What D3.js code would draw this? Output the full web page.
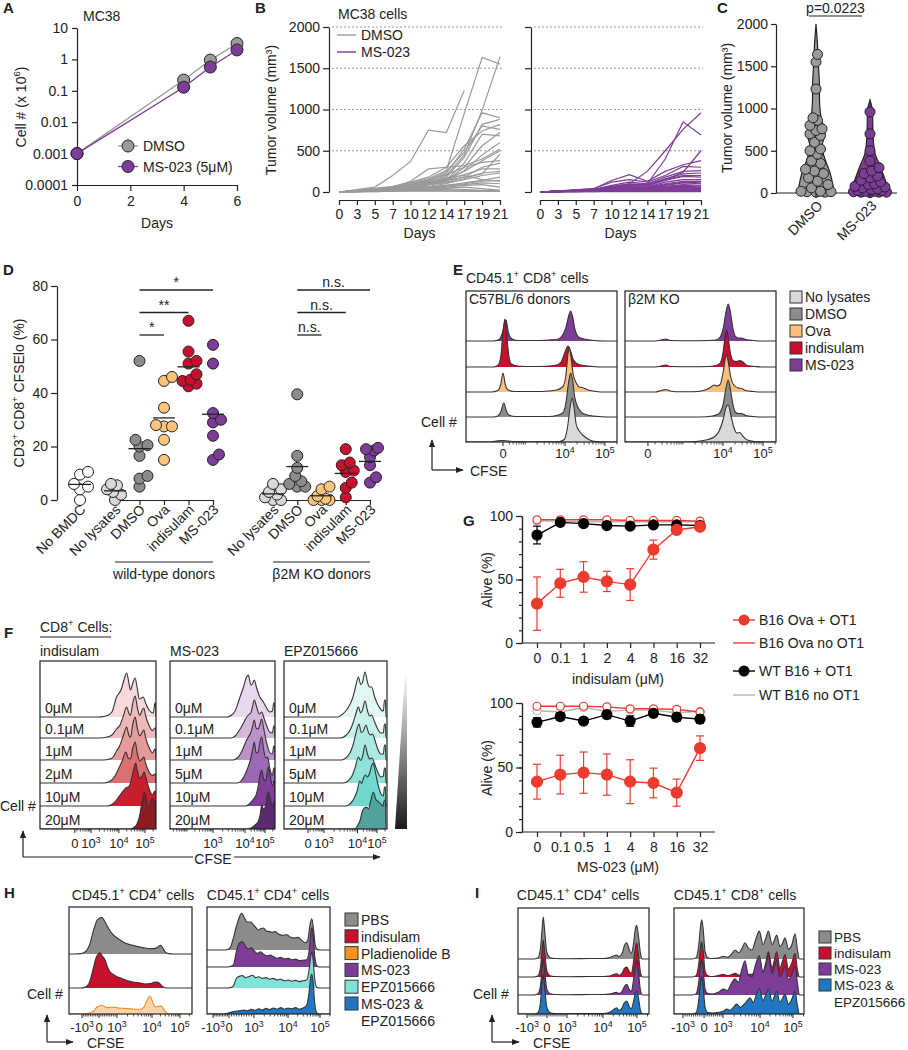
<!DOCTYPE html>
<html><head><meta charset="utf-8">
<script src="https://d3js.org/d3.v7.min.js"></script>
<style>html,body{margin:0;padding:0;background:#fff}</style>
</head><body>
<svg id="fig" width="908" height="1050" xmlns="http://www.w3.org/2000/svg"></svg>
<script>
// ================= DATA =================
// A
const aDays=[0,4,5,6];
const aDMSO=[0.001,0.22,0.95,3.2];
const aMS023=[0.001,0.13,0.57,2.0];
const aYTicks=[0.0001,0.001,0.01,0.1,1,10];
const aYLabels=["0.0001","0.001","0.01","0.1","1","10"];
const aXTicks=[0,2,4,6];
const aLegend=["DMSO","MS-023 (5μM)"];
// B
const bDays=[0,3,5,7,10,12,14,17,19,21];
const bYTicks=[0,500,1000,1500,2000];
const bDMSO=[
[0,30,60,200,370,750,720,1230,null,null],
[0,20,40,60,110,160,260,950,1630,1550],
[0,15,30,50,80,120,200,450,990,1640],
[0,20,35,60,90,130,230,520,960,900],
[0,10,25,45,70,110,180,420,820,880],
[0,15,30,55,90,140,250,480,800,760],
[0,20,40,70,120,180,300,560,740,820],
[0,10,20,40,70,100,150,350,700,680],
[0,15,25,40,60,90,140,300,560,720],
[0,10,20,35,60,90,130,260,450,600],
[0,15,30,50,130,280,300,320,400,520],
[0,10,20,40,70,110,160,250,380,500],
[0,20,40,60,100,150,210,300,360,380],
[0,10,25,40,60,90,120,180,300,350],
[0,15,30,50,80,120,150,210,280,280],
[0,10,20,30,50,70,100,160,230,250],
[0,10,20,40,70,90,110,150,200,230],
[0,15,25,35,50,60,80,110,140,180],
[0,10,20,30,40,60,80,100,130,140],
[0,5,15,25,40,50,70,90,110,100],
[0,10,15,25,35,45,60,80,90,60],
[0,5,10,20,30,40,50,60,40,20],
[0,5,10,15,20,30,40,30,20,20],
[0,5,10,15,25,30,30,20,15,15],
[0,5,5,10,15,20,15,10,10,10],
[0,5,5,10,10,10,10,10,10,10],
[0,10,20,30,60,120,170,200,150,130],
[0,20,30,50,80,100,140,180,220,460]];
const bMS023=[
[0,10,20,30,60,100,250,500,760,960],
[0,10,20,30,50,90,100,400,850,690],
[0,10,20,35,60,80,100,150,240,500],
[0,15,25,40,140,210,130,250,330,380],
[0,10,25,40,120,150,120,200,310,300],
[0,10,20,30,80,120,100,180,250,260],
[0,10,20,30,70,100,90,160,220,230],
[0,10,20,30,60,80,80,150,200,200],
[0,10,20,30,60,70,70,140,190,180],
[0,10,20,30,50,60,60,120,150,150],
[0,10,20,25,40,60,60,100,130,130],
[0,10,15,25,40,50,50,90,120,110],
[0,10,15,25,35,50,50,80,110,100],
[0,10,15,20,30,40,50,70,90,80],
[0,10,15,20,30,40,40,60,80,70],
[0,10,15,20,30,35,40,60,70,60],
[0,5,15,20,25,30,35,50,60,50],
[0,5,10,20,25,30,30,40,50,40],
[0,5,10,15,20,25,30,35,40,30],
[0,5,10,15,20,25,25,30,35,30],
[0,5,10,15,20,20,20,25,25,20],
[0,5,10,10,15,15,20,20,20,20],
[0,5,10,10,15,15,15,15,15,15],
[0,5,5,10,10,10,10,10,10,10],
[0,5,5,10,10,10,10,10,10,10],
[0,5,5,5,10,10,10,10,10,10],
[0,5,5,5,5,5,5,5,5,5]];
const bLegend=["DMSO","MS-023"];
// C
const cGroups=["DMSO","MS-023"];
const cYTicks=[0,500,1000,1500,2000];
const cDMSO=[1640,1550,1230,890,860,800,760,740,700,680,600,520,500,460,380,350,280,260,230,180,140,100,60,20,20,15,15,10,10];
const cMS023=[960,700,500,380,300,260,230,200,180,150,130,110,100,80,70,60,50,40,30,30,20,20,15,10,10,10,5];
const cViolinDMSO=[[0,17.5],[80,17],[240,14],[400,9],[550,6],[700,9],[790,7.5],[900,5],[990,4],[1100,3.5],[1260,3.5],[1500,2.5],[1750,1.5],[2000,0]];
const cViolinMS023=[[0,19],[160,15],[320,10],[470,5],[630,3.3],[800,2.8],[990,2.3],[1100,0]];
const cP="p=0.0223";
// D
const dYTicks=[0,20,40,60,80];
const dNoBMDC=[10.5,9.5,6,5,4,0];
const dCats=["No lysates","DMSO","Ova","indisulam","MS-023"];
const dWT=[[6,5.5,4,3,2,0],[52,22.5,20.5,20,16.5,9,8,5],[46,44.5,34.5,28,27.5,27.5,22.5,15],[67,55.5,52,51,47,45,44.5,43.5,42.5],[58,51,32.5,30,29,24,17,15]];
const dKO=[[6,4,3,2,1,0,0],[39.5,16.5,12,9,7,6,5,5],[5,4,1.5,0.5,0,0,0],[19,14,13,11,10.5,6.5,4.5,1],[19.5,19,18.5,16,13,8.5,6.5]];
const dColors=["#d9d9d9","#8c8c8c","#fdc47d","#c8102e","#7d3c98"];
const dSigWT=[{to:"Ova",label:"*"},{to:"indisulam",label:"**"},{to:"MS-023",label:"*"}];
const dSigKO=[{to:"Ova",label:"n.s."},{to:"indisulam",label:"n.s."},{to:"MS-023",label:"n.s."}];
const dGroups=["wild-type donors","β2M KO donors"];
// E
const eRows=["MS-023","indisulam","Ova","DMSO","No lysates"]; // top to bottom
const eLegend=["No lysates","DMSO","Ova","indisulam","MS-023"];
const eColors={"No lysates":"#d9d9d9","DMSO":"#8c8c8c","Ova":"#fdc07a","indisulam":"#c8102e","MS-023":"#7d3c98"};
const eHistWT={
"MS-023":[[0,0],[18,0],[22,3],[24,15],[26.5,42],[28,18],[30,5],[34,1],[45,1],[55,2],[60,3],[63,8],[66,25],[68,50],[69.3,60],[70.5,50],[72,25],[74,10],[77,5],[80,3],[85,1],[92,0]],
"indisulam":[[0,0],[18,0],[21,3],[23,20],[24.5,70],[25.8,96],[27,60],[28.5,20],[30,6],[34,2],[45,1],[55,2],[60,4],[63,10],[65,25],[67.5,42],[69.5,30],[71,15],[74,6],[78,3],[84,1],[90,0]],
"Ova":[[0,0],[17,0],[21,3],[23,15],[24.5,38],[26,15],[28,4],[32,1],[45,1],[55,2],[60,4],[64,10],[66,30],[67.5,75],[68.3,90],[69.5,70],[71,35],[73,18],[75,10],[77,9],[80,5],[84,2],[90,0]],
"DMSO":[[0,0],[18,0],[21,2],[23,10],[25,28],[27,10],[29,3],[33,1],[45,1],[55,1],[60,3],[64,8],[66,25],[68,70],[69.3,88],[70.5,75],[72,40],[74,20],[77,8],[82,3],[88,1],[95,0]],
"No lysates":[[0,0],[15,0],[20,2],[24,3],[28,2],[32,1],[45,0.5],[55,0.5],[62,1],[65,5],[67,25],[69,70],[70.3,88],[71.5,70],[73,35],[75,22],[78,12],[82,4],[86,1],[92,0]]};
const eHistKO={
"MS-023":[[0,0],[20,0],[24,2],[27,4],[30,1],[45,0.5],[55,1],[60,2],[63,8],[65,25],[67,60],[68.4,74],[69.8,58],[71.5,25],[73,10],[75,6],[77,6],[80,3],[85,1],[90,0]],
"indisulam":[[0,0],[20,0],[24,2],[27,4],[30,1],[45,0.5],[55,1],[60,3],[63,8],[65,30],[66.5,65],[67.3,74],[68.5,55],[70,25],[72,12],[74,11],[76,13],[78,10],[81,3],[86,1],[90,0]],
"Ova":[[0,0],[20,0],[24,3],[27,5],[30,2],[34,0.5],[45,0.5],[52,3],[56,8],[59,14],[61,12],[63,15],[65,40],[66.5,68],[67.3,74],[68.5,58],[70,30],[72,14],[75,8],[77,7],[80,3],[85,1],[90,0]],
"DMSO":[[0,0],[50,0],[58,2],[62,6],[65,25],[67,60],[68.4,74],[69.8,55],[71.5,25],[73,10],[75,7],[77,7],[80,3],[85,1],[90,0]],
"No lysates":[[0,0],[40,0],[50,2],[55,5],[59,10],[62,20],[65,45],[67,70],[68.4,74],[70,55],[72,30],[74,18],[76,19],[78,12],[81,4],[86,1],[92,0]]};
const eTicksWT=[{v:24.5,l:"0",e:0},{v:65.6,l:"10^{4}",e:4},{v:92,l:"10^{5}",e:5}];
const eTicksKO=[{v:15.2,l:"0",e:0},{v:64.9,l:"10^{4}",e:4},{v:91.4,l:"10^{5}",e:5}];
const eBoxTitles=["C57BL/6 donors","β2M KO"];
// F
const fDrugs=["indisulam","MS-023","EPZ015666"];
const fDoses=[["0μM","0.1μM","1μM","2μM","10μM","20μM"],["0μM","0.1μM","1μM","5μM","10μM","20μM"],["0μM","0.1μM","1μM","5μM","10μM","20μM"]];
const fColors=[["#f8dada","#f0b9b9","#e79a9a","#dc6f6f","#c81f2d","#8c1b22"],["#ead9ee","#d6b8df","#bb91ca","#9e69b4","#7f3e98","#5b2a6f"],["#e2f8f5","#c8f1ec","#ace9e2","#8fe2d9","#70d9ce","#52a39b"]];
const fHist=[
[[[50,0],[55,1],[58,3],[62,10],[66,40],[70,55],[72.5,75],[74.7,88],[76.5,70],[78,54],[80,68],[82,78],[84,55],[85.6,36],[87.5,38],[89,40],[91,28],[94,14],[97.7,8],[99,28],[99.6,28],[100,0]],
 [[52,0],[58,2],[62,6],[66,18],[69,26],[72,45],[74.7,62],[76.5,50],[78,45],[80,70],[82,84],[84,60],[86,45],[88,55],[89.5,60],[91,45],[94,25],[97,15],[99,20],[99.6,20],[100,0]],
 [[55,0],[60,2],[63,6],[66,18],[69,30],[72,50],[74.7,66],[76.5,50],[78,45],[80,72],[82,86],[84,62],[86,48],[88,55],[89.5,60],[91,45],[94,25],[97,14],[99,22],[99.6,22],[100,0]],
 [[55,0],[60,3],[64,12],[68,30],[71,45],[74,62],[76,50],[78,48],[80,70],[82,82],[84,58],[86,44],[88,48],[89.5,52],[91,40],[94,22],[97,15],[99,18],[99.6,18],[100,0]],
 [[58,0],[62,3],[66,12],[70,25],[74,36],[77,40],[79,55],[81,75],[82.5,86],[84,70],[86,55],[88,60],[89.7,68],[91.5,55],[94,35],[97,22],[99,30],[99.6,30],[100,0]],
 [[78,0],[81,3],[84,12],[86,28],[88,55],[90,74],[92,55],[94,44],[95.5,55],[97,62],[98.5,55],[99.5,50],[100,0]]],
[[[55,0],[58,3],[62,12],[66.7,40],[70,60],[72.5,78],[74.6,84],[77,64],[78.5,66],[80.3,74],[82.5,58],[85.5,40],[88.9,30],[92,18],[95,10],[97.5,12],[98.8,28],[99.5,28],[100,0]],
 [[58,0],[62,4],[66,15],[70,30],[72.5,40],[74.6,46],[77,50],[78.5,62],[80.3,76],[82.5,62],[85,48],[87.3,52],[89.5,40],[92,25],[95,12],[97.5,10],[98.8,24],[99.5,24],[100,0]],
 [[60,0],[64,4],[67,12],[70,25],[72.5,38],[74.6,46],[77,55],[78.5,66],[80.3,80],[82,64],[84,62],[85.5,70],[87.3,82],[89.5,60],[92,35],[95,15],[97.5,12],[98.8,28],[99.5,28],[100,0]],
 [[64,0],[68,5],[71,15],[74,30],[77,50],[79,70],[80.3,82],[82,60],[84,62],[85.5,80],[87.3,92],[89,70],[91,50],[93,52],[95,30],[97.5,15],[98.8,30],[99.5,30],[100,0]],
 [[72,0],[75,3],[78,10],[80,15],[82,22],[84,40],[85.5,60],[87.3,72],[89,55],[91,50],[92.5,65],[93.6,78],[95.5,60],[97.5,40],[98.8,50],[99.5,50],[100,0]],
 [[74,0],[78,3],[81,8],[84,15],[86,30],[87.3,48],[89,40],[91,45],[92.5,65],[93.6,74],[95.5,60],[97.5,42],[98.8,55],[99.5,55],[100,0]]],
[[[52,0],[55,3],[60,12],[64,25],[67,40],[70,65],[72.2,80],[74.5,65],[76,68],[78.7,90],[81,70],[83,60],[85,60],[88,40],[91,25],[94,15],[96.5,12],[97.5,34],[98.5,34],[99,0]],
 [[55,0],[60,5],[64,15],[67,30],[70,50],[72.2,62],[74.5,50],[76,55],[78.7,74],[81,55],[83,44],[85,46],[88,32],[91,18],[94,10],[96.5,10],[97.5,28],[98.5,28],[99,0]],
 [[56,0],[60,4],[64,14],[67,30],[70,55],[72.8,72],[75,55],[77,58],[79.5,70],[82,55],[84,50],[86,52],[88.5,38],[91,22],[94,12],[96.5,12],[97.5,30],[98.5,30],[99,0]],
 [[58,0],[62,4],[66,14],[69,30],[72.2,52],[74.5,45],[76.5,55],[78.7,76],[81,58],[83,48],[85.5,50],[88,38],[91,22],[94,12],[96.5,14],[97.5,30],[98.5,30],[99,0]],
 [[60,0],[64,4],[68,15],[71,30],[73.5,50],[75.5,45],[77,55],[79,62],[81,58],[83,65],[85,80],[86.7,86],[88.5,70],[91,45],[94,25],[96.5,20],[97.5,38],[98.5,38],[99,0]],
 [[68,0],[71,5],[74,18],[76,35],[78,42],[80.3,44],[82,40],[84,55],[86.7,74],[89,60],[91.5,55],[94,50],[96,45],[97.5,58],[98.5,58],[99,0]]]];
const fTicks=[
[{v:30,l:"0",e:0},{v:44,l:"10^{3}",e:3},{v:68,l:"10^{4}",e:4},{v:90.5,l:"10^{5}",e:5}],
[{v:41,l:"10^{3}",e:3},{v:71.4,l:"10^{4}",e:4},{v:90.5,l:"10^{5}",e:5}],
[{v:23.3,l:"0",e:0},{v:38.8,l:"10^{3}",e:3},{v:71.4,l:"10^{4}",e:4},{v:90.3,l:"10^{5}",e:5}]];
// G
const gCatsTop=["0","0.1","1","2","4","8","16","32"];
const gCatsBottom=["0","0.1","0.5","1","4","8","16","32"];
const gSeriesNames=["B16 Ova + OT1","B16 Ova no OT1","WT B16 + OT1","WT B16 no OT1"];
const gTopMean=[[31,47,52,48.5,46,73.5,89,91.5],[97,97,97,97,96.5,96.5,96.5,96],[85,95,94,92.5,92,93,93,92.5],[96,96,95.5,95.5,95.5,95.5,95.5,95.5]];
const gTopErr=[[21,11,12,8,12.5,7.5,1.5,1],[1,1,1,1,1,1,1,1],[7,1,1.5,1.5,1.5,1,1,1],[1,1,1,1,1,1,1,1]];
const gBotMean=[[39,44.5,46,44.5,39,38,30.5,65],[97.5,97.5,97.5,97,95.5,95.5,95,93],[85,89.5,86,91,86,92,89,87.5],[94,93,96.5,93.5,94.5,94.5,92.5,93.5]];
const gBotErr=[[13.5,15,16,16,17,11.5,10.5,9.5],[1,1,1.5,1,1,1,2,1],[3.5,3,2,3,4,2,3,3],[2,1,1,1,1,1,2,1]];
const gYTicks=[0,50,100];
// H
const hLegend=["PBS","indisulam","Pladienolide B","MS-023","EPZ015666","MS-023 &|EPZ015666"];
const hColors=["#8c8c8c","#c8102e","#f7941d","#7d3c98","#7fe3d8","#1f78c1"];
const hHist1=[
[[5,0],[10,1],[14,8],[17,25],[20,60],[23,85],[26.6,92],[29,82],[31,70],[34,55],[37,45],[41,36],[45,28],[50,23],[55,19],[60,16],[66,13],[70,14],[72.5,18],[74.5,22],[76.5,14],[78.5,4],[81,1],[84,0]],
[[10,0],[13,2],[16,10],[19,40],[22,75],[25.2,88],[27,80],[29.3,70],[31,55],[33,42],[36,34],[39,28],[43,24],[47,19],[52,15],[57,13],[62,10],[66,11],[69,14],[71.3,15],[73.5,12],[76,4],[79,0]],
[[12,0],[16,2],[20,8],[23,18],[26.6,22],[29,18],[32,16],[36,17],[40,15],[45,14],[50,13],[55,12],[58,12],[61,18],[63.5,35],[65.9,45],[68,30],[70,18],[72.5,19],[74.8,20],[77,12],[79,4],[81,0]]];
const hHist2=[
[[15,0],[18.7,5],[21,25],[24,60],[26,80],[28.2,92],[30.5,80],[32.5,70],[35.5,70],[38,62],[40,55],[41.7,50],[44,54],[45.8,55],[48.5,47],[51,46],[53,44],[55.3,46],[58,40],[61,37],[64.8,38],[68,32],[71,30],[74.2,32],[77,24],[80,18],[82,25],[83.6,60],[85.1,78],[86.5,55],[88,12],[89.5,2],[92,0]],
[[17,0],[21.4,5],[24,40],[26.5,60],[29,63],[31.5,50],[33.5,45],[36,48],[38.5,40],[41,34],[43.5,38],[46,32],[49,28],[51.5,30],[54,26],[57,22],[60,24],[63,20],[66,22],[69,18],[72,20],[75,16],[78,17],[81,18],[83,40],[84.2,80],[85.1,98],[86.3,80],[87.5,30],[89,5],[91,0]],
[[17,0],[21,3],[24,25],[27,30],[29,31],[31,26],[34,28],[37,32],[39.5,26],[42,28],[45,24],[48,26],[51,22],[54,24],[57,20],[60,22],[63,18],[66,20],[69,17],[72,19],[75,16],[78,18],[81,20],[83,45],[84.2,75],[85.1,90],[86.3,70],[87.5,25],[89,3],[91,0]],
[[14,0],[18,3],[22,6],[26,8],[30,10],[33,8],[36,12],[39,9],[42,13],[45,10],[48,14],[51,11],[54,15],[57,12],[60,16],[63,12],[66,15],[69,13],[72,16],[75,12],[78,15],[81,22],[83,55],[84.2,90],[85.1,100],[86.3,80],[87.5,30],[89,4],[91,0]]];
const hTicks1=[{v:10.6,l:"-10^{3}",e:-3},{v:24.4,l:"0",e:0},{v:39,l:"10^{3}",e:3},{v:67.5,l:"10^{4}",e:4},{v:90.2,l:"10^{5}",e:5}];
const hTicks2=[{v:4.9,l:"-10^{3}",e:-3},{v:17.9,l:"0",e:0},{v:38.2,l:"10^{3}",e:3},{v:65.9,l:"10^{4}",e:4},{v:91.9,l:"10^{5}",e:5}];
// I
const iLegend=["PBS","indisulam","MS-023","MS-023 &|EPZ015666"];
const iColors=["#8c8c8c","#c8102e","#7d3c98","#1f78c1"];
const iHist1=[
[[12,0],[15,2],[17,20],[18.5,70],[19.3,93],[20.3,65],[22,15],[24.5,3],[28,1],[40,0.5],[55,1],[65,1],[70,3],[72.5,6],[75.3,9],[77,5],[79.5,12],[81,28],[83,36],[85,20],[86.5,12],[88,30],[89.5,65],[90.6,75],[92,50],[93.5,12],[95,0]],
[[12,0],[15,2],[17,18],[18.5,62],[19.3,82],[20.3,58],[22,14],[24.5,3],[28,1],[40,0.5],[55,1],[65,1],[70,2],[72.5,5],[75.3,7],[77,4],[79.5,9],[81,18],[83,22],[85,12],[86.5,8],[88,30],[89.5,62],[90.6,76],[92,48],[93.5,10],[95,0]],
[[12,0],[15,2],[17,18],[18.5,60],[19.3,80],[20.3,55],[22,13],[24.5,3],[28,1],[40,0.5],[55,1],[65,1],[70,2],[72.5,4],[75.3,6],[77,3],[79.5,8],[81,18],[83,24],[85,12],[86.5,8],[88,30],[89.5,62],[90.6,76],[92,48],[93.5,10],[95,0]],
[[12,0],[15,2],[17,22],[18.5,70],[19.3,89],[20.3,62],[22,15],[24.5,3],[28,1],[40,0.5],[55,1],[65,1],[70,4],[72.5,9],[75.3,14],[77,8],[79.5,14],[81,24],[83,29],[85,16],[86.5,12],[88,25],[89.5,45],[90.6,51],[92,35],[93.5,8],[95,0]]];
const iHist2=[
[[14,0],[17,3],[19,30],[20.5,75],[21.3,87],[22.3,70],[24,15],[26,3],[30,1],[34,2],[37.9,6],[41,4],[44,10],[46.9,20],[50,14],[52.5,25],[54.6,36],[57,25],[60,20],[62.5,40],[65.6,62],[68.5,32],[70.5,45],[72.6,62],[75.5,32],[77,40],[79,53],[81.5,28],[83.5,35],[85.4,47],[88,22],[90.5,30],[93.1,56],[95,20],[96.5,0]],
[[14,0],[17,3],[19,28],[20.5,68],[21.3,78],[22.3,60],[24,12],[26,3],[30,1],[34,3],[37.9,6],[41,3],[44,5],[46.9,8],[50,4],[52.5,8],[54.6,12],[57,6],[60,6],[62.5,12],[65.6,20],[68.5,12],[70.5,30],[72.6,56],[75.5,20],[77,35],[79,56],[81.5,20],[83.5,35],[85.4,50],[88,18],[90.5,30],[93.1,52],[95,15],[96.5,0]],
[[14,0],[17,3],[19,28],[20.5,68],[21.3,78],[22.3,60],[24,12],[26,3],[30,2],[34,6],[37.9,13],[41,10],[44,25],[46.9,36],[49.5,28],[52,55],[54.6,76],[57,45],[60,40],[62.5,65],[65.6,87],[68.5,50],[70.5,65],[72.6,87],[75.5,48],[77,60],[79,76],[81.5,40],[83.5,50],[85.4,64],[88,35],[90.5,45],[93.1,64],[95,25],[96.5,0]],
[[14,0],[17,3],[19,30],[20.5,72],[21.3,84],[22.3,65],[24,14],[26,3],[30,2],[35,4],[38,6],[40.5,11],[43,8],[45.5,14],[48.2,22],[51,15],[54,22],[56.5,30],[58.5,36],[61,25],[63,40],[65.6,56],[68.5,30],[70.5,42],[72.6,56],[75.5,28],[77,38],[79,50],[81.5,26],[83.5,35],[85.4,44],[88,22],[90.5,32],[93.1,50],[95,18],[96.5,0]]];
const iTicks1=[{v:6.9,l:"-10^{3}",e:-3},{v:22.1,l:"0",e:0},{v:37.4,l:"10^{3}",e:3},{v:64.9,l:"10^{4}",e:4},{v:90.8,l:"10^{5}",e:5}];
const iTicks2=[{v:6.9,l:"-10^{3}",e:-3},{v:23.1,l:"0",e:0},{v:37.7,l:"10^{3}",e:3},{v:66.2,l:"10^{4}",e:4},{v:91.5,l:"10^{5}",e:5}];

// ================= HELPERS =================
const FONT='"Liberation Sans", Arial, Helvetica, sans-serif';
const INK="#222", PURPLE="#7d3c98", LGRAY="#9a9a9a", GRED="#ee3b2f";
const svg=d3.select("#fig").attr("font-family",FONT);
const defs=svg.append("defs");
defs.append("marker").attr("id","arrow").attr("viewBox","0 0 10 10").attr("refX",9).attr("refY",5)
  .attr("markerWidth",8).attr("markerHeight",8).attr("markerUnits","userSpaceOnUse").attr("orient","auto")
  .append("path").attr("d","M0,1L10,5L0,9Z").attr("fill",INK);
const grad=defs.append("linearGradient").attr("id","wedge").attr("x1",0).attr("y1",0).attr("x2",0).attr("y2",1);
grad.append("stop").attr("offset","0%").attr("stop-color","#ffffff");
grad.append("stop").attr("offset","100%").attr("stop-color","#1a1a1a");

function rich(t,str){
  t.text(null);
  const parts=str.split(/(\^\{[^}]*\})/).filter(s=>s.length);
  let up=false;
  parts.forEach(p=>{
    if(p.startsWith("^{")){t.append("tspan").text(p.slice(2,-1)).attr("font-size","0.68em").attr("dy","-0.6em");up=true;}
    else{const ts=t.append("tspan").text(p); if(up){ts.attr("dy","0.41em");up=false;}}
  });
  return t;
}
function T(x,y,str,o={}){
  const t=svg.append("text").attr("x",x).attr("y",y).attr("font-size",o.size||14)
    .attr("text-anchor",o.anchor||"start").attr("fill",o.fill||INK);
  if(o.bold) t.attr("font-weight","bold");
  if(o.rotate!=null) t.attr("transform",`rotate(${o.rotate},${x},${y})`);
  return rich(t,str);
}
function styleAxis(sel,size){
  sel.attr("font-family",FONT).attr("font-size",size||14);
  sel.selectAll("path.domain").attr("stroke",INK).attr("stroke-width",1.2);
  sel.selectAll(".tick line").attr("stroke",INK).attr("stroke-width",1.2);
  sel.selectAll(".tick text").attr("fill",INK);
}
function hline(x1,x2,y,w){svg.append("line").attr("x1",x1).attr("x2",x2).attr("y1",y).attr("y2",y).attr("stroke",INK).attr("stroke-width",w||1.2);}
function arrow(x1,y1,x2,y2){svg.append("line").attr("x1",x1).attr("y1",y1).attr("x2",x2).attr("y2",y2).attr("stroke",INK).attr("stroke-width",1.2).attr("marker-end","url(#arrow)");}
// beeswarm: place each point at the nearest free offset within maxOff(value)
function swarm(values,y,cx,minD,step,maxOff){
  const pts=values.map(v=>({v,y:y(v)})).sort((a,b)=>a.v-b.v);
  const placed=[];
  pts.forEach(p=>{
    const lim=maxOff(p.v);
    const offs=[0];for(let k=1;k*step<=lim;k++){offs.push(k*step,-k*step);}
    let best=null,bestD=-1;
    for(const o of offs){
      const dmin=placed.length?d3.min(placed,q=>Math.hypot(q.x-(cx+o),q.y-p.y)):1e9;
      if(dmin>=minD){best=o;break;}
      if(dmin>bestD){bestD=dmin;best=o;}
    }
    p.x=cx+best;
    placed.push(p);
  });
  return placed;
}
function minorTicks(ticks){
  const dec=ticks.filter(t=>t.e>0).sort((a,b)=>a.e-b.e);
  const zero=ticks.find(t=>t.e===0), neg=ticks.find(t=>t.e<0);
  const out=[];
  for(let i=0;i<dec.length-1;i++){const a=dec[i],b=dec[i+1],w=(b.v-a.v)/(b.e-a.e);for(let m=2;m<10;m++)out.push(a.v+Math.log10(m)*w);}
  const last=dec[dec.length-1];
  const w=(last.v-dec[0].v)/(last.e-dec[0].e);
  for(let m=2;m<10;m++){const v=last.v+Math.log10(m)*w;if(v<100)out.push(v);}
  if(neg&&zero){
    for(let k=1;k<10;k++){out.push(zero.v+(dec[0].v-zero.v)*k/10);out.push(zero.v-(zero.v-neg.v)*k/10);}
  } else {
    const lo=zero?zero.v+1:0;
    for(let j=1;j<=2;j++){const base=dec[0].v-j*w;for(let m=1;m<10;m++){const v=base+Math.log10(m)*w;if(v>lo&&v<dec[0].v)out.push(v);}}
  }
  return out;
}
let clipN=0;
function histBox(c){
  const g=svg.append("g");
  const id="clip"+(clipN++);
  defs.append("clipPath").attr("id",id).append("rect").attr("x",c.x0).attr("y",c.y0).attr("width",c.x1-c.x0).attr("height",c.y1-c.y0);
  const xs=d3.scaleLinear([0,100],[c.x0,c.x1]);
  const hs=d3.scaleLinear([0,100],[0,c.hpx]);
  const inner=g.append("g").attr("clip-path",`url(#${id})`);
  c.rows.forEach((r,i)=>{
    const b=c.baselines[i];
    const d=r.data.slice();
    if(d[0][0]>0)d.unshift([0,0]);
    if(d[d.length-1][0]<100)d.push([100,0]);
    const area=d3.area().x(p=>xs(p[0])).y0(b).y1(p=>b-hs(p[1])).curve(d3.curveMonotoneX);
    const line=d3.line().x(p=>xs(p[0])).y(p=>b-hs(p[1])).curve(d3.curveMonotoneX);
    inner.append("path").attr("d",area(d)).attr("fill",r.fill);
    inner.append("path").attr("d",line(d)).attr("fill","none").attr("stroke",r.stroke||"#333").attr("stroke-width",1.1);
  });
  g.append("rect").attr("x",c.x0).attr("y",c.y0).attr("width",c.x1-c.x0).attr("height",c.y1-c.y0)
    .attr("fill","none").attr("stroke",INK).attr("stroke-width",1.2);
  if(c.ticks){
    c.ticks.forEach(t=>{
      g.append("line").attr("x1",xs(t.v)).attr("x2",xs(t.v)).attr("y1",c.y1).attr("y2",c.y1+4).attr("stroke",INK).attr("stroke-width",1);
      const tx=g.append("text").attr("x",xs(t.v)).attr("y",c.y1+c.labelDy).attr("text-anchor","middle").attr("font-size",c.tickSize||13).attr("fill",INK);
      rich(tx,t.l);
    });
    minorTicks(c.ticks).forEach(v=>{
      g.append("line").attr("x1",xs(v)).attr("x2",xs(v)).attr("y1",c.y1).attr("y2",c.y1+2.5).attr("stroke",INK).attr("stroke-width",0.8);
    });
  }
  return {g,xs};
}
function legendSquares(x,yTop,step,size,names,colors,fs){
  names.forEach((n,i)=>{
    const y=yTop+i*step;
    svg.append("rect").attr("x",x).attr("y",y).attr("width",size).attr("height",size).attr("fill",colors[i]).attr("stroke","#333").attr("stroke-width",1);
    const lines=n.split("|");
    lines.forEach((ln,j)=>T(x+size+3,y+size-1+j*17,ln,{size:fs||14}));
  });
}

// ================= PANEL A =================
(function(){
  T(3,13,"A",{bold:true,size:15});
  T(83,21,"MC38",{size:14});
  const x=d3.scaleLinear([0,6],[77,237]);
  const y=d3.scaleLog([0.0001,10],[185,28]);
  svg.append("g").attr("transform","translate(77,0)")
    .call(d3.axisLeft(y).tickValues(aYTicks).tickFormat((d,i)=>aYLabels[i]).tickSize(5).tickPadding(4).tickSizeOuter(0)).call(styleAxis,14);
  svg.append("g").attr("transform","translate(0,185)")
    .call(d3.axisBottom(x).tickValues(aXTicks).tickFormat(d3.format("d")).tickSize(6).tickPadding(5).tickSizeOuter(0)).call(styleAxis,14);
  const line=d3.line().x((d,i)=>x(aDays[i])).y(d=>y(d));
  [[aDMSO,LGRAY],[aMS023,PURPLE]].forEach(([s,c])=>{
    svg.append("path").attr("d",line(s)).attr("fill","none").attr("stroke",c).attr("stroke-width",1.3);
    svg.append("g").selectAll("circle").data(s).join("circle").attr("cx",(d,i)=>x(aDays[i])).attr("cy",d=>y(d))
      .attr("r",6).attr("fill",c).attr("stroke",INK).attr("stroke-width",1);
  });
  [LGRAY,PURPLE].forEach((c,i)=>{
    const yy=146+i*20.5;
    svg.append("line").attr("x1",118).attr("x2",138).attr("y1",yy).attr("y2",yy).attr("stroke",c).attr("stroke-width",1.3);
    svg.append("circle").attr("cx",128).attr("cy",yy).attr("r",6).attr("fill",c).attr("stroke",INK);
    T(143,yy+5,aLegend[i],{size:14});
  });
  T(26,107,"Cell # (x 10^{6})",{anchor:"middle",rotate:-90,size:14});
  T(157,228,"Days",{anchor:"middle",size:14});
})();

// ================= PANEL B =================
(function(){
  T(255,13,"B",{bold:true,size:15});
  T(338,19,"MC38 cells",{size:14});
  const y=d3.scaleLinear([0,2000],[192,27]);
  const panels=[{data:bDMSO,color:LGRAY,x0:339,x1:500,ax:329,labels:true},{data:bMS023,color:PURPLE,x0:540,x1:701,ax:531,labels:false}];
  panels.forEach(p=>{
    const x=d3.scalePoint(bDays,[p.x0,p.x1]);
    svg.append("g").selectAll("line").data(bYTicks.filter(d=>d>0)).join("line")
      .attr("x1",p.ax+3).attr("x2",p.x1+2).attr("y1",d=>y(d)).attr("y2",d=>y(d))
      .attr("stroke","#999").attr("stroke-width",1).attr("stroke-dasharray","2,2");
    svg.append("g").attr("transform",`translate(${p.ax},0)`)
      .call(d3.axisLeft(y).tickValues(bYTicks).tickSize(6).tickPadding(3).tickSizeOuter(0).tickFormat(p.labels?d3.format("d"):()=>"")).call(styleAxis,14);
    svg.append("g").attr("transform","translate(0,200)")
      .call(d3.axisBottom(x).tickSize(5).tickPadding(4).tickSizeOuter(0)).call(styleAxis,14);
    const line=d3.line().defined(d=>d!=null).x((d,i)=>x(bDays[i])).y(d=>y(d));
    const lg=svg.append("g");
    p.data.forEach(s=>lg.append("path").attr("d",line(s)).attr("fill","none").attr("stroke",p.color).attr("stroke-width",1.2));
    T((p.x0+p.x1)/2,238,"Days",{anchor:"middle",size:14});
  });
  [LGRAY,PURPLE].forEach((c,i)=>{
    const yy=35+i*17;
    svg.append("line").attr("x1",337).attr("x2",356).attr("y1",yy).attr("y2",yy).attr("stroke",c).attr("stroke-width",1.4);
    T(361,yy+5,bLegend[i],{size:14});
  });
  T(276,110,"Tumor volume (mm³)",{anchor:"middle",rotate:-90,size:14});
})();

// ================= PANEL C =================
(function(){
  T(717,13,"C",{bold:true,size:15});
  const y=d3.scaleLinear([0,2000],[193,24]);
  const x=d3.scalePoint(cGroups,[816,870]);
  const w=d3.scaleLinear([0,20],[0,20]);
  svg.append("g").attr("transform","translate(776,0)")
    .call(d3.axisLeft(y).tickValues(cYTicks).tickSize(5).tickPadding(3).tickSizeOuter(0).tickFormat(d3.format("d"))).call(styleAxis,14);
  hline(776,897,193);
  const groups=[{n:"DMSO",vals:cDMSO,vio:cViolinDMSO,fill:"#9a9a9a"},{n:"MS-023",vals:cMS023,vio:cViolinMS023,fill:PURPLE}];
  groups.forEach(gr=>{
    const cx=x(gr.n);
    const area=d3.area().y(d=>y(d[0])).x0(d=>cx-w(d[1])).x1(d=>cx+w(d[1])).curve(d3.curveCatmullRom);
    svg.append("path").attr("d",area(gr.vio)).attr("fill",gr.fill).attr("stroke",INK).attr("stroke-width",1.2);
    const half=d3.scaleLinear(gr.vio.map(d=>d[0]),gr.vio.map(d=>w(d[1]))).clamp(true);
    const pts=swarm(gr.vals,y,cx,9,1.5,v=>Math.max(1.5,half(v)-1));
    svg.append("g").selectAll("circle").data(pts).join("circle").attr("cx",d=>d.x).attr("cy",d=>d.y).attr("r",5)
      .attr("fill",gr.fill).attr("stroke",INK).attr("stroke-width",1);
    svg.append("line").attr("x1",cx).attr("x2",cx).attr("y1",193).attr("y2",198).attr("stroke",INK).attr("stroke-width",1.2);
    T(cx+4,203,gr.n,{anchor:"end",rotate:-45,size:14}).attr("dy","0.35em");
  });
  hline(809,862,16);
  T(835.5,12.5,cP,{anchor:"middle",size:14});
  T(732,108,"Tumor volume (mm³)",{anchor:"middle",rotate:-90,size:14});
})();

// ================= PANEL D =================
(function(){
  T(3,275,"D",{bold:true,size:15});
  const y=d3.scaleLinear([0,80],[500,286]);
  svg.append("g").attr("transform","translate(57,0)")
    .call(d3.axisLeft(y).tickValues(dYTicks).tickSize(6).tickPadding(3).tickSizeOuter(0)).call(styleAxis,14);
  const xWT=d3.scalePoint(dCats,[115,213]);
  const xKO=d3.scalePoint(dCats,[273,370]);
  [xWT,xKO].forEach(xs=>{
    svg.append("g").attr("transform","translate(0,500)").call(d3.axisBottom(xs).tickSize(5).tickFormat("").tickSizeOuter(0)).call(styleAxis,14);
  });
  svg.append("line").attr("x1",80).attr("x2",80).attr("y1",500).attr("y2",505).attr("stroke",INK).attr("stroke-width",1.2);
  const draw=(vals,cx,fill)=>{
    const pts=swarm(vals,y,cx,7.5,2,()=>8);
    svg.append("g").selectAll("circle").data(pts).join("circle").attr("cx",d=>d.x).attr("cy",d=>d.y).attr("r",5.5)
      .attr("fill",fill).attr("stroke",INK).attr("stroke-width",1);
    const m=d3.mean(vals);
    hline(cx-11,cx+11,y(m),1.3);
  };
  draw(dNoBMDC,80,"#ffffff");
  dCats.forEach((c,i)=>{draw(dWT[i],xWT(c),dColors[i]);draw(dKO[i],xKO(c),dColors[i]);});
  T(83,507,"No BMDC",{anchor:"end",rotate:-45,size:14}).attr("dy","0.35em");
  dCats.forEach(c=>{
    T(xWT(c)+3,507,c,{anchor:"end",rotate:-45,size:14}).attr("dy","0.35em");
    T(xKO(c)+3,507,c,{anchor:"end",rotate:-45,size:14}).attr("dy","0.35em");
  });
  [[xWT,dSigWT],[xKO,dSigKO]].forEach(([xs,sig])=>{
    sig.forEach((s,lvl)=>{
      const yy=335-lvl*22.5, x1=xs("DMSO"), x2=xs(s.to);
      hline(x1,x2,yy,1.3);
      T((x1+x2)/2,yy-3,s.label,{anchor:"middle",size:14});
    });
  });
  [[xWT,dGroups[0]],[xKO,dGroups[1]]].forEach(([xs,n])=>{
    const a=xs(dCats[0]),b=xs(dCats[dCats.length-1]);
    hline(a,b,562,1.2);
    T((a+b)/2,579,n,{anchor:"middle",size:14});
  });
  T(24,393,"CD3^{+} CD8^{+} CFSElo (%)",{anchor:"middle",rotate:-90,size:14});
})();

// ================= PANEL E =================
(function(){
  T(453,275,"E",{bold:true,size:15});
  T(466,283,"CD45.1^{+} CD8^{+} cells",{size:14});
  const baselines=[341,367,392,417,442];
  [[466,617,eHistWT,eTicksWT],[625,776,eHistKO,eTicksKO]].forEach(([x0,x1,H,ticks],k)=>{
    histBox({x0,x1,y0:291,y1:442,hpx:50,baselines,
      rows:eRows.map(n=>({data:H[n],fill:eColors[n]})),ticks,labelDy:16});
    T(x0+3,304,eBoxTitles[k],{size:14});
  });
  legendSquares(790,291,17,12,eLegend,eLegend.map(n=>eColors[n]),14);
  T(421,427,"Cell #",{size:14});
  arrow(432,470,432,440);
  arrow(432,470,463,470);
  T(470,476,"CFSE",{size:14});
})();

// ================= PANEL F =================
(function(){
  T(4,638,"F",{bold:true,size:15});
  T(40,632,"CD8^{+} Cells:",{size:14});
  hline(40,111,637,1);
  const boxes=[[40,156],[170,275],[284,387]];
  const baselines=[717,738,760,783,806,829];
  boxes.forEach(([x0,x1],k)=>{
    T(x0,656,fDrugs[k],{size:14});
    histBox({x0,x1,y0:661,y1:829,hpx:50,baselines,
      rows:fHist[k].map((d,i)=>({data:d,fill:fColors[k][i]})),ticks:fTicks[k],labelDy:19});
    fDoses[k].forEach((lab,i)=>T(x0+5,baselines[i]-4.5,lab,{size:14}));
  });
  svg.append("path").attr("d","M405,672 L407,672 L407,829 L395,829 Z").attr("fill","url(#wedge)");
  T(0,811,"Cell #",{size:14});
  svg.append("line").attr("x1",23).attr("x2",23).attr("y1",857).attr("y2",831).attr("stroke",INK).attr("stroke-width",1.2).attr("marker-end","url(#arrow)");
  hline(23,193,857,1.2);
  arrow(234,857,380,857);
  T(213,864,"CFSE",{anchor:"middle",size:14});
})();

// ================= PANEL G =================
(function(){
  T(463,526,"G",{bold:true,size:15});
  const charts=[
    {cats:gCatsTop,y:d3.scaleLinear([0,100],[643,516]),mean:gTopMean,err:gTopErr,title:"indisulam (μM)",ty:684,ycenter:580},
    {cats:gCatsBottom,y:d3.scaleLinear([0,100],[832,703]),mean:gBotMean,err:gBotErr,title:"MS-023 (μM)",ty:872,ycenter:768}];
  const sty=[{c:GRED,filled:true,r:5.5},{c:GRED,filled:false,r:4},{c:"#000",filled:true,r:5},{c:"#b5b5b5",filled:false,r:4}];
  const order=[3,1,2,0];
  charts.forEach(ch=>{
    const x=d3.scalePoint(ch.cats,[537,700]);
    const y=ch.y, y0=y(0);
    svg.append("g").attr("transform","translate(522,0)")
      .call(d3.axisLeft(y).tickValues(d3.range(0,101,10)).tickSize(3).tickFormat("").tickSizeOuter(0)).call(styleAxis,14);
    svg.append("g").attr("transform","translate(522,0)")
      .call(d3.axisLeft(y).tickValues(gYTicks).tickSize(6).tickPadding(3).tickSizeOuter(0)).call(styleAxis,14);
    hline(522,715,y0,1.2);
    const xa=svg.append("g").attr("transform",`translate(0,${y0})`)
      .call(d3.axisBottom(x).tickSize(5).tickPadding(5).tickSizeOuter(0)).call(styleAxis,14);
    xa.select(".domain").remove();
    order.forEach(si=>{
      const s=sty[si], m=ch.mean[si], e=ch.err[si];
      const g=svg.append("g");
      ch.cats.forEach((c,i)=>{
        const cx=x(c);
        g.append("line").attr("x1",cx).attr("x2",cx).attr("y1",y(m[i]-e[i])).attr("y2",y(Math.min(100.5,m[i]+e[i]))).attr("stroke",s.c).attr("stroke-width",1.2);
        [m[i]-e[i],m[i]+e[i]].forEach(v=>g.append("line").attr("x1",cx-4).attr("x2",cx+4).attr("y1",y(Math.min(100.5,v))).attr("y2",y(Math.min(100.5,v))).attr("stroke",s.c).attr("stroke-width",1.2));
      });
      g.append("path").attr("d",d3.line().x((d,i)=>x(ch.cats[i])).y(d=>y(d))(m)).attr("fill","none").attr("stroke",s.c).attr("stroke-width",1.4);
      g.selectAll("circle").data(m).join("circle").attr("cx",(d,i)=>x(ch.cats[i])).attr("cy",d=>y(d)).attr("r",s.r)
        .attr("fill",s.filled?s.c:"#fff").attr("stroke",s.c).attr("stroke-width",1.2);
    });
    T(618,ch.ty,ch.title,{anchor:"middle",size:14});
    T(492,ch.ycenter,"Alive (%)",{anchor:"middle",rotate:-90,size:14});
  });
  const ly=[620,643,671,695];
  gSeriesNames.forEach((n,i)=>{
    const s=sty[i];
    svg.append("line").attr("x1",733).attr("x2",755).attr("y1",ly[i]).attr("y2",ly[i]).attr("stroke",s.c).attr("stroke-width",1.4);
    if(s.filled) svg.append("circle").attr("cx",744).attr("cy",ly[i]).attr("r",5.5).attr("fill",s.c);
    T(759,ly[i]+5,n,{size:14});
  });
})();

// ================= PANEL H =================
(function(){
  T(4,898,"H",{bold:true,size:15});
  T(133,900,"CD45.1^{+} CD4^{+} cells",{anchor:"middle",size:14});
  T(268,900,"CD45.1^{+} CD4^{+} cells",{anchor:"middle",size:14});
  histBox({x0:69,x1:192,y0:907,y1:1014,hpx:40,baselines:[954,988,1014],
    rows:[{data:hHist1[0],fill:hColors[0]},{data:hHist1[1],fill:hColors[1]},{data:hHist1[2],fill:"#fdd5a8",stroke:"#f58a2a"}],
    ticks:hTicks1,labelDy:18});
  histBox({x0:207,x1:330,y0:907,y1:1014,hpx:40,baselines:[950,967,988,1014],
    rows:[{data:hHist2[0],fill:hColors[0]},{data:hHist2[1],fill:hColors[3]},{data:hHist2[2],fill:hColors[4]},{data:hHist2[3],fill:hColors[5]}],
    ticks:hTicks2,labelDy:18});
  legendSquares(345,913,16.8,13,hLegend,hColors,14);
  T(27,999,"Cell #",{size:14});
  arrow(47,1042,47,1015);
  arrow(47,1042,73,1042);
  T(87,1048,"CFSE",{size:14});
})();

// ================= PANEL I =================
(function(){
  T(475,898,"I",{bold:true,size:15});
  T(578,900,"CD45.1^{+} CD4^{+} cells",{anchor:"middle",size:14});
  T(735,900,"CD45.1^{+} CD8^{+} cells",{anchor:"middle",size:14});
  const baselines=[959,977,995,1014];
  histBox({x0:518,x1:649,y0:908,y1:1014,hpx:45,baselines,rows:iHist1.map((d,i)=>({data:d,fill:iColors[i]})),ticks:iTicks1,labelDy:18});
  histBox({x0:674,x1:804,y0:908,y1:1014,hpx:45,baselines,rows:iHist2.map((d,i)=>({data:d,fill:iColors[i]})),ticks:iTicks2,labelDy:18});
  legendSquares(819,931,16,12,iLegend,iColors,13.5);
  T(473,999,"Cell #",{size:14});
  arrow(492,1042,492,1015);
  arrow(492,1042,519,1042);
  T(533,1048,"CFSE",{size:14});
})();
</script></body></html>
